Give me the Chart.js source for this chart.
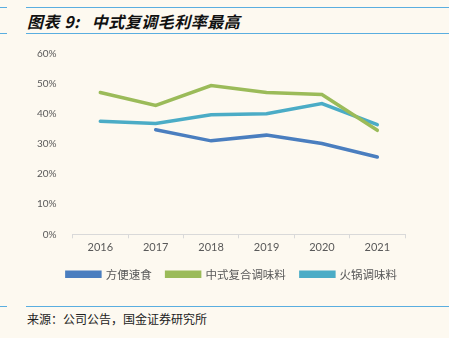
<!DOCTYPE html>
<html>
<head>
<meta charset="utf-8">
<script src="https://cdn.jsdelivr.net/npm/chart.js@4"></script>
<style>
  html, body { margin: 0; padding: 0; background: #fdf9f0; }
  body { width: 449px; height: 338px; position: relative; overflow: hidden; }
  .rule { position: absolute; height: 1px; background: #5aaee0; }
  #title { position: absolute; left: 27px; top: 9px; font: italic bold 16px "Noto Sans CJK SC", sans-serif; color: #111; white-space: pre; letter-spacing: 0.5px; }
  #title span { margin-left: 12px; }
  #source { position: absolute; left: 27px; top: 310px; font: 12px "Noto Sans CJK SC", sans-serif; color: #222; }
  #box { position: absolute; left: 0; top: 40px; width: 449px; height: 256px; }
</style>
</head>
<body>
<div class="rule" style="left:0;width:7px;top:7px"></div>
<div class="rule" style="left:26px;right:0;top:7px"></div>
<div class="rule" style="left:0;width:7px;top:33px"></div>
<div class="rule" style="left:26px;right:0;top:33px"></div>
<div id="title">图表 9:<span>中式复调毛利率最高</span></div>
<div id="box"><canvas id="myChart"></canvas></div>
<div class="rule" style="left:0;width:7px;top:306px"></div>
<div class="rule" style="left:26px;right:0;top:306px"></div>
<div id="source">来源：公司公告，国金证券研究所</div>
<script>
var years = ['2016', '2017', '2018', '2019', '2020', '2021'];
var instantFood = [null, 34.8, 31.1, 33.0, 30.2, 25.7];
var chineseSeasoning = [47.2, 42.9, 49.5, 47.2, 46.5, 34.6];
var hotpotSeasoning = [37.6, 36.9, 39.8, 40.1, 43.5, 36.5];

// nudge the legend a bit right and up, like the original
var legendNudge = {
    id: 'legendNudge',
    afterLayout: function (chart) {
        var lg = chart.legend;
        lg.left += 15; lg.right += 15;
        lg.top -= 4; lg.bottom -= 4;
    }
};

var ctx = document.getElementById('myChart').getContext('2d');
var myChart = new Chart(ctx, {
    type: 'line',
    data: {
        labels: years,
        datasets: [{
            label: '方便速食',
            data: instantFood,
            borderColor: '#4a7ebf',
            backgroundColor: '#4a7ebf'
        }, {
            label: '中式复合调味料',
            data: chineseSeasoning,
            borderColor: '#9bbb59',
            backgroundColor: '#9bbb59'
        }, {
            label: '火锅调味料',
            data: hotpotSeasoning,
            borderColor: '#4bacc6',
            backgroundColor: '#4bacc6'
        }]
    },
    plugins: [legendNudge],
    options: {
        responsive: true,
        maintainAspectRatio: false,
        animation: false,
        elements: {
            line: { borderWidth: 3.5, tension: 0, borderCapStyle: 'round' },
            point: { radius: 0 }
        },
        layout: {
            padding: { left: 29, right: 44, top: 6, bottom: 2 }
        },
        plugins: {
            legend: {
                position: 'bottom',
                labels: {
                    boxWidth: 33,
                    boxHeight: 4,
                    padding: 15,
                    color: '#595959',
                    font: { size: 11.5, family: '"Noto Sans CJK SC", sans-serif' }
                }
            },
            tooltip: { enabled: false }
        },
        scales: {
            x: {
                offset: true,
                grid: { display: true, drawOnChartArea: false, tickLength: 4, color: '#d9d9d9', offset: true },
                border: { display: true, color: '#d9d9d9' },
                ticks: { color: '#595959', padding: 3, font: { size: 11, family: 'Lato, sans-serif' } }
            },
            y: {
                min: 0,
                max: 60,
                grid: { display: false },
                border: { display: false },
                ticks: {
                    stepSize: 10,
                    color: '#595959',
                    padding: 8,
                    font: { size: 10, family: 'Lato, sans-serif' },
                    callback: function (v) { return v + '%'; }
                }
            }
        }
    }
});
</script>
</body>
</html>
